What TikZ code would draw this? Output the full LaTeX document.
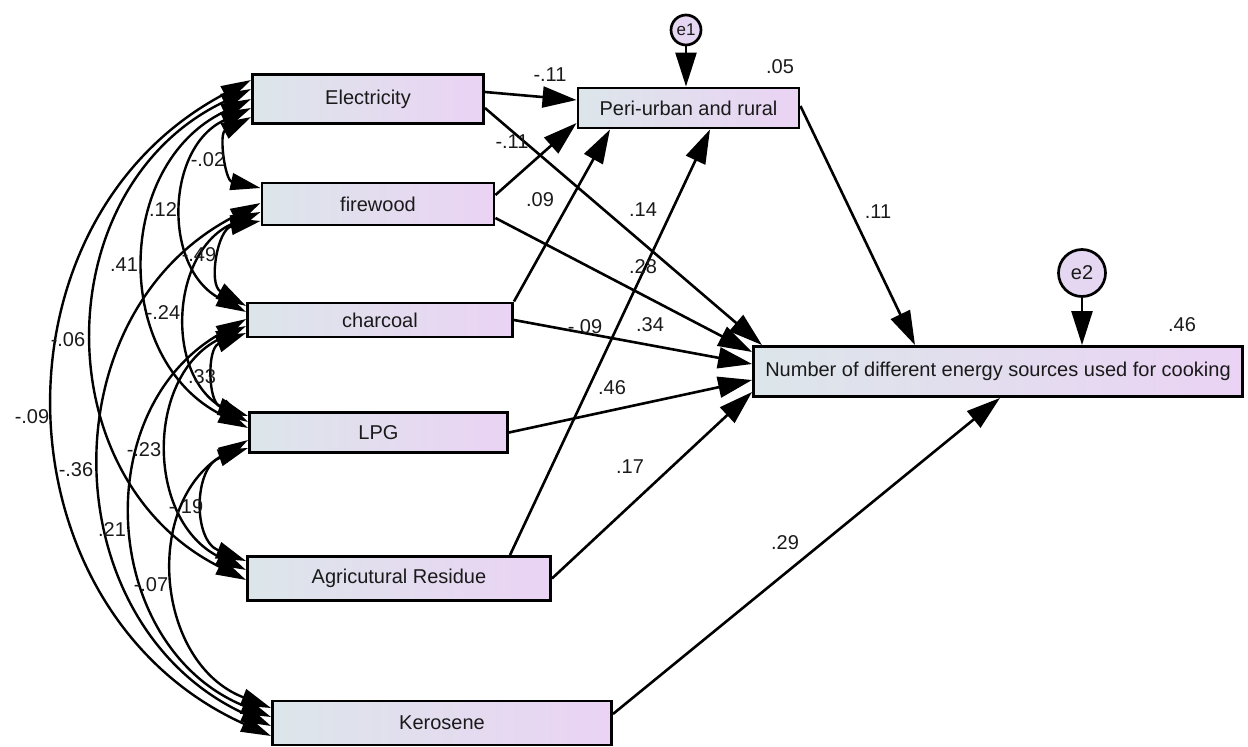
\documentclass[tikz,border=0pt]{standalone}
\usepackage{fontspec}
\setmainfont{Liberation Sans}
\usetikzlibrary{arrows.meta,calc}
\definecolor{boxleft}{HTML}{DCE6EA}
\definecolor{boxright}{HTML}{EAD3F4}
\definecolor{errfill}{HTML}{E5D6F1}
\definecolor{ink}{HTML}{1A1A1A}
\begin{document}
\begin{tikzpicture}[x=1pt,y=-1pt,
  every node/.style={font=\fontsize{20}{24}\selectfont, text=ink},
  varbox/.style={draw=black, line width=2.9pt, left color=boxleft, right color=boxright, inner sep=0pt},
  errc/.style={circle, draw=black, line width=2.7pt, fill=errfill, inner sep=0pt},
  lbl/.style={inner sep=0pt},
  reg/.style={line width=2.6pt, -{Triangle[length=34pt,width=21pt]}},
  covar/.style={line width=2.4pt, {Triangle[length=30pt,width=17pt]}-{Triangle[length=30pt,width=17pt]}, bend right=64, looseness=1.18},
  adj/.style={covar, bend right=70, looseness=1.3}
]
\useasboundingbox (0,0) rectangle (1248,747);

% observed variables
\node[varbox, minimum width=231pt, minimum height=49pt] (E) at (368,99) {Electricity};
\node[varbox, minimum width=232pt, minimum height=42pt] (F) at (378,204) {firewood};
\node[varbox, minimum width=265pt, minimum height=34pt] (C) at (380,320) {charcoal};
\node[varbox, minimum width=258pt, minimum height=40pt] (L) at (378.5,432.5) {LPG};
\node[varbox, minimum width=303pt, minimum height=44pt] (A) at (399,578.5) {Agricutural Residue};
\node[varbox, minimum width=339pt, minimum height=44pt] (K) at (442,723) {Kerosene};
\node[varbox, minimum width=221pt, minimum height=40pt] (P) at (688.5,108) {Peri-urban and rural};
\node[varbox, minimum width=489pt, minimum height=50pt] (N) at (998,371.5) {Number of different energy sources used for cooking};

% error terms
\node[errc, minimum size=30pt, font=\fontsize{17}{20}\selectfont] (e1) at (686,30) {e1};
\node[errc, minimum size=47pt] (e2) at (1082,273) {e2};

% covariances between neighbouring sources
\draw[adj] (E.west |- 0,117) to (F.west |- 0,188);
\draw[adj] (F.west |- 0,221) to (C.west |- 0,306);
\draw[adj] (C.west |- 0,333) to (L.west |- 0,416);
\draw[adj] (L.west |- 0,448) to (A.west |- 0,561);
% covariances spanning more sources
\draw[covar] (E.west |- 0,108) to (C.west |- 0,312);
\draw[covar] (F.west |- 0,212) to (L.west |- 0,422);
\draw[covar] (C.west |- 0,326) to (A.west |- 0,570);
\draw[covar] (L.west |- 0,440) to (K.west |- 0,708);
\draw[covar] (E.west |- 0,99) to (L.west |- 0,428);
\draw[covar] (C.west |- 0,319) to (K.west |- 0,717);
\draw[covar] (E.west |- 0,89) to (A.west |- 0,580);
\draw[covar] (F.west |- 0,203) to (K.west |- 0,726);
\draw[covar] (E.west |- 0,80) to (K.west |- 0,736);

% regression paths
\draw[reg] (E.east |- 0,92) -- (P.west |- 0,100);
\draw[reg] (E.east |- 0,108) -- (N.north -| 762,0);
\draw[reg] (F.east |- 0,195) -- (P.west |- 0,123);
\draw[reg] (F.east |- 0,218) -- (N.west |- 0,352);
\draw[reg] (C.north east) -- (P.south -| 610,0);
\draw[reg] (C.east) -- (N.west |- 0,364);
\draw[reg] (L.east) -- (N.west |- 0,380);
\draw[reg] (A.north -| 510,0) -- (P.south -| 710,0);
\draw[reg] (A.east) -- (N.west |- 0,392);
\draw[reg] (K.east |- 0,714) -- (N.south -| 1000,0);
\draw[reg] (P.east |- 0,106) -- (N.north -| 915,0);
\draw[reg] (e1) -- (e1 |- P.north);
\draw[reg] (e2) -- (e2 |- N.north);

% path coefficients and squared multiple correlations
\node[lbl] (r1) at (550,75) {-.11};
\node[lbl] (r2) at (512,142) {-.11};
\node[lbl] (r3) at (540,200) {.09};
\node[lbl] (r4) at (643,210) {.14};
\node[lbl] (r5) at (643,267) {.28};
\node[lbl] (r6) at (585,327) {-.09};
\node[lbl] (r7) at (650,325) {.34};
\node[lbl] (r8) at (612,388) {.46};
\node[lbl] (r9) at (630,467) {.17};
\node[lbl] (r10) at (785,543) {.29};
\node[lbl] (r11) at (878,212) {.11};
\node[lbl] (sq1) at (780,67) {.05};
\node[lbl] (sq2) at (1182,325) {.46};

% covariance coefficients
\node[lbl] (c1) at (208,160) {-.02};
\node[lbl] (c2) at (163,210) {.12};
\node[lbl] (c3) at (124,265) {.41};
\node[lbl] (c4) at (199,255) {-.49};
\node[lbl] (c5) at (163,313) {-.24};
\node[lbl] (c6) at (68,340) {-.06};
\node[lbl] (c7) at (202,377) {.33};
\node[lbl] (c8) at (32,417) {-.09};
\node[lbl] (c9) at (76,470) {-.36};
\node[lbl] (c10) at (144,450) {-.23};
\node[lbl] (c11) at (186,507) {-.19};
\node[lbl] (c12) at (112,530) {.21};
\node[lbl] (c13) at (151,585) {-.07};
\end{tikzpicture}
\end{document}
